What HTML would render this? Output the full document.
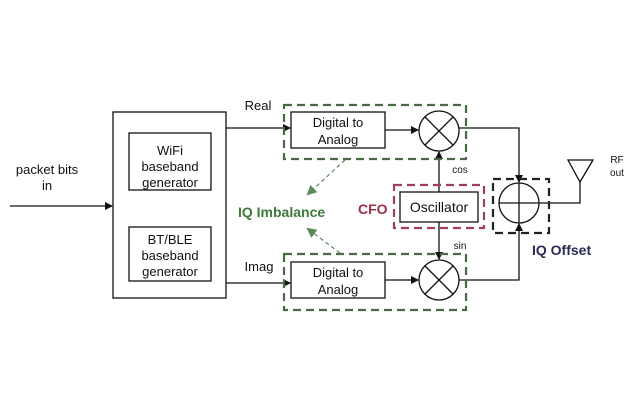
<!DOCTYPE html><html><head><style>body{margin:0;background:#fff}</style></head><body>
<svg width="640" height="400" xmlns="http://www.w3.org/2000/svg" font-family="Liberation Sans, sans-serif">
<defs><marker id="a" markerWidth="8" markerHeight="8" refX="7" refY="4" orient="auto" markerUnits="userSpaceOnUse"><path d="M0,0L8,4L0,8z" fill="#111"/></marker>
<marker id="g" markerWidth="10" markerHeight="10" refX="8" refY="5" orient="auto" markerUnits="userSpaceOnUse"><path d="M0,0L10,5L0,10z" fill="#5a8a5a"/></marker></defs>
<g stroke="#111" stroke-width="1.3" fill="none">
<rect x="113" y="112" width="113" height="186"/>
<rect x="129" y="133" width="82" height="57"/>
<rect x="129" y="227" width="82" height="54"/>
<rect x="291" y="112" width="94" height="36"/>
<rect x="291" y="262" width="94" height="36"/>
<rect x="400" y="192" width="78" height="30"/>
<line x1="10" y1="206" x2="112" y2="206" marker-end="url(#a)"/>
<line x1="226" y1="128" x2="290" y2="128" marker-end="url(#a)"/>
<line x1="226" y1="283" x2="290" y2="283" marker-end="url(#a)"/>
<line x1="385" y1="130" x2="418" y2="130" marker-end="url(#a)"/>
<line x1="385" y1="280" x2="418" y2="280" marker-end="url(#a)"/>
<circle cx="439" cy="131" r="20"/><path d="M425,117L453,145M453,117L425,145"/>
<circle cx="439" cy="280" r="20"/><path d="M425,266L453,294M453,266L425,294"/>
<line x1="439" y1="192" x2="439" y2="152" marker-end="url(#a)"/>
<line x1="439" y1="222" x2="439" y2="259" marker-end="url(#a)"/>
<circle cx="519" cy="203" r="20"/><path d="M499,203H539M519,183V223"/>
<polyline points="459,128 519,128 519,182" marker-end="url(#a)"/>
<polyline points="459,280 519,280 519,224" marker-end="url(#a)"/>
<polyline points="539,203 580,203 580,182"/>
<path d="M568,160H593L580,182Z"/>
</g>
<g fill="none" stroke-width="2.2" stroke-dasharray="8,5">
<rect x="284" y="105" width="182" height="54" stroke="#4a6a45"/>
<rect x="284" y="254" width="182" height="56" stroke="#4a6a45"/>
<rect x="394" y="185" width="90" height="43" stroke="#a04058"/>
<rect x="493" y="179" width="56" height="54" stroke="#222"/>
</g>
<g stroke="#5a8a5a" stroke-width="1.2" stroke-dasharray="4,3">
<line x1="345" y1="160" x2="308" y2="194" marker-end="url(#g)"/>
<line x1="340" y1="253" x2="308" y2="229" marker-end="url(#g)"/>
</g>
<g font-size="13" fill="#111" text-anchor="middle">
<text x="170" y="155">WiFi</text><text x="170" y="171">baseband</text><text x="170" y="187">generator</text>
<text x="170" y="244">BT/BLE</text><text x="170" y="260">baseband</text><text x="170" y="276">generator</text>
<text x="338" y="127">Digital to</text><text x="338" y="144">Analog</text>
<text x="338" y="277">Digital to</text><text x="338" y="294">Analog</text>
<text x="439" y="212" font-size="14">Oscillator</text>
<text x="47" y="174">packet bits</text><text x="47" y="190">in</text>
<text x="258" y="110">Real</text><text x="259" y="271">Imag</text>
<text x="617" y="163" font-size="10">RF</text><text x="617" y="176" font-size="10">out</text>
<text x="460" y="173" font-size="10">cos</text><text x="460" y="249" font-size="10">sin</text>
</g>
<g font-weight="bold" font-size="14">
<text x="238" y="217" fill="#3a7a3a">IQ Imbalance</text>
<text x="358" y="214" fill="#9a3048">CFO</text>
<text x="532" y="255" fill="#2a2a55">IQ Offset</text>
</g>
</svg></body></html>
